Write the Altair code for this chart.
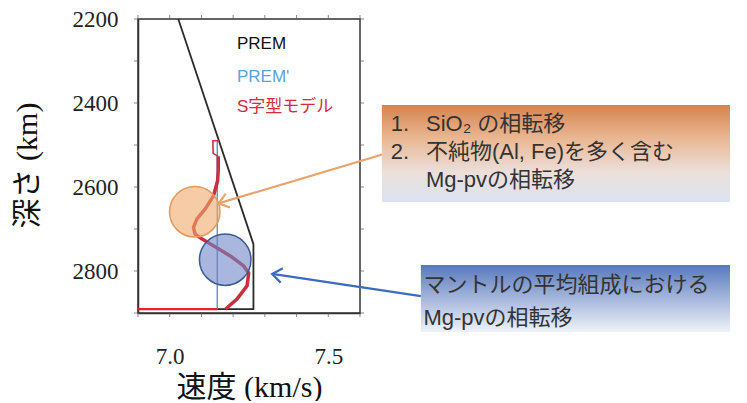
import altair as alt
import pandas as pd

# ---------------- data ----------------
# PREM (black)
prem_vel = [7.027, 7.264, 7.264, 6.90]
prem_dep = [2200, 2736, 2891, 2891]
# PREM' (blue)
premp_vel = [7.155, 7.150, 7.150]
premp_dep = [2490, 2490, 2891]
# S-shaped model, thin upper part
stop_vel = [7.155, 7.136, 7.137, 7.153]
stop_dep = [2490, 2490, 2520, 2527]
# S-shaped model, thick part
s_vel = [7.153, 7.153, 7.151, 7.138, 7.112, 7.086, 7.075, 7.080, 7.102, 7.138,
         7.191, 7.233, 7.249, 7.244, 7.212, 7.186, 7.176]
s_dep = [2527, 2560, 2585, 2621, 2652, 2676, 2696, 2712, 2724, 2740,
         2764, 2788, 2805, 2835, 2867, 2884, 2891]
# core (Vs -> 0)
core_vel = [7.150, 6.90]
core_dep = [2891, 2891]

# circles
circle_vel = [7.079, 7.175]
circle_dep = [2659, 2773]

# arrows (start -> end)
arrow_name = ["orange", "blue"]
arrow_vel0 = [7.678, 7.792]
arrow_dep0 = [2521, 2860]
arrow_vel1 = [7.154, 7.323]
arrow_dep1 = [2639, 2807]
arrow_angle = [163.3, 188.6]
arrow_color = ["#e9a36b", "#3b6cc0"]

# legend labels in plot
legend_text = ["PREM", "PREM'", "S字型モデル"]
legend_vel = [7.212, 7.212, 7.212]
legend_dep = [2259, 2337, 2409]
legend_col = ["#111111", "#5aa2dc", "#d42a3a"]

# annotation boxes
box1 = dict(v0=7.669, v1=8.783, d0=2405, d1=2636)
box2 = dict(v0=7.792, v1=8.780, d0=2786, d1=2945)
box1_num = ["1.", "2."]
box1_num_dep = [2449, 2517]
box1_text = ["SiO₂ の相転移", "不純物(Al, Fe)を多く含む", "Mg-pvの相転移"]
box1_text_dep = [2449, 2517, 2583]
box2_text = ["マントルの平均組成における", "Mg-pvの相転移"]
box2_text_dep = [2833, 2912]

x_labels = [7.0, 7.5]
x_ticks = [6.9, 7.0, 7.1, 7.2, 7.3, 7.4, 7.5, 7.6]
y_labels = [2200, 2400, 2600, 2800]
y_ticks = [2200, 2300, 2400, 2500, 2600, 2700, 2800, 2900]

# ---------------- tables ----------------
series_info = [
    ("PREM", prem_vel, prem_dep, "#2a2a2a", 1.8),
    ("PREMp", premp_vel, premp_dep, "#5b9bd5", 1.5),
    ("Stop", stop_vel, stop_dep, "#d0303e", 1.6),
    ("S", s_vel, s_dep, "#c8303e", 3.5),
    ("core", core_vel, core_dep, "#e8202c", 2.2),
]
rows = []
for name, vs, ds, col, w in series_info:
    for i, (v, d) in enumerate(zip(vs, ds)):
        rows.append({"series": name, "idx": i, "vel": v, "depth": d, "col": col, "w": w})
lines_df = pd.DataFrame(rows)

xscale = alt.Scale(domain=[6.9, 7.6], nice=False, zero=False)
yscale = alt.Scale(domain=[2200, 2900], nice=False, zero=False, reverse=True)

SERIF = "Liberation Serif, Noto Sans CJK JP"
SANS = "Liberation Sans, Noto Sans CJK JP"

xaxis = alt.Axis(values=x_labels, format=".1f", ticks=False, labelPadding=32,
                 labelOverlap=False, labelFlush=False,
                 labelFont=SERIF, labelFontSize=23, labelColor="#222222",
                 title="速度 (km/s)", titleFont=SERIF, titleFontSize=30,
                 titleFontWeight="normal", titleColor="#111111",
                 titleX=111, titleY=74, titleBaseline="middle", titleAlign="center",
                 grid=False, domainColor="#333333", domainWidth=1.5)
yaxis = alt.Axis(values=y_labels, format="d", ticks=False, labelPadding=20,
                 labelOverlap=False, labelFlush=False,
                 labelFont=SERIF, labelFontSize=23, labelColor="#222222",
                 title="深さ (km)", titleFont=SERIF, titleFontSize=30,
                 titleFontWeight="normal", titleColor="#111111",
                 titleX=-111, titleY=146, titleAngle=-90, titleBaseline="middle",
                 titleAlign="center",
                 grid=False, domainColor="#333333", domainWidth=1.5)

lines = alt.Chart(lines_df).mark_line(clip=False, strokeJoin="round", strokeCap="butt").encode(
    x=alt.X("vel:Q", scale=xscale, axis=xaxis),
    y=alt.Y("depth:Q", scale=yscale, axis=yaxis),
    color=alt.Color("col:N", scale=None),
    strokeWidth=alt.StrokeWidth("w:Q", scale=None),
    detail="series:N",
    order="idx:Q",
)

# small ticks on all four sides
xt_df = pd.DataFrame({"vel": x_ticks})
yt_df = pd.DataFrame({"depth": y_ticks})
top_ticks = alt.Chart(xt_df).mark_tick(
    orient="vertical", size=4, thickness=1, color="#555555", clip=False
).encode(x="vel:Q", y=alt.value(-2))
bottom_ticks = alt.Chart(xt_df).mark_tick(
    orient="vertical", size=4, thickness=1, color="#555555", clip=False
).encode(x="vel:Q", y=alt.value(296))
right_ticks = alt.Chart(yt_df).mark_tick(
    orient="horizontal", size=4, thickness=1, color="#555555", clip=False
).encode(y="depth:Q", x=alt.value(224))
left_ticks = alt.Chart(yt_df).mark_tick(
    orient="horizontal", size=4, thickness=1, color="#555555", clip=False
).encode(y="depth:Q", x=alt.value(-2))

circ_df = pd.DataFrame({"vel": circle_vel, "depth": circle_dep})
orange_c = alt.Chart(circ_df.iloc[[0]]).mark_point(
    shape="circle", filled=True, size=2550, fill="#eeaa6a", fillOpacity=0.6,
    stroke="#e39a5c", strokeWidth=1.5, strokeOpacity=1, opacity=1, clip=False
).encode(x="vel:Q", y="depth:Q")
blue_c = alt.Chart(circ_df.iloc[[1]]).mark_point(
    shape="circle", filled=True, size=2650, fill="#7085c6", fillOpacity=0.6,
    stroke="#3a5a94", strokeWidth=1.5, strokeOpacity=1, opacity=1, clip=False
).encode(x="vel:Q", y="depth:Q")

arr_df = pd.DataFrame({"name": arrow_name, "vel": arrow_vel0, "depth": arrow_dep0,
                       "vel1": arrow_vel1, "depth1": arrow_dep1, "angle": arrow_angle,
                       "col": arrow_color})
arrow_lines = alt.Chart(arr_df).mark_rule(strokeWidth=2.2, clip=False).encode(
    x="vel:Q", y="depth:Q", x2="vel1:Q", y2="depth1:Q",
    color=alt.Color("col:N", scale=None),
)
head_df = pd.DataFrame({"vel": arrow_vel1, "depth": arrow_dep1, "angle": arrow_angle,
                        "col": arrow_color})
arrow_heads = alt.Chart(head_df).mark_point(
    shape="M -1 -0.75 L 0 0 L -1 0.75", filled=False, size=380, strokeWidth=2.2,
    opacity=1, clip=False, strokeJoin="miter"
).encode(
    x="vel:Q", y="depth:Q",
    angle=alt.Angle("angle:Q", scale=None),
    color=alt.Color("col:N", scale=None),
)

leg_df = pd.DataFrame({"t": legend_text, "vel": legend_vel, "depth": legend_dep, "c": legend_col})
legend_marks = alt.Chart(leg_df).mark_text(
    align="left", baseline="middle", font=SANS, fontSize=17, clip=False
).encode(x="vel:Q", y="depth:Q", text="t:N", color=alt.Color("c:N", scale=None))

grad1 = alt.Gradient(gradient="linear", x1=0, y1=0, x2=0, y2=1, stops=[
    alt.GradientStop(color="#d5834f", offset=0),
    alt.GradientStop(color="#eab894", offset=0.35),
    alt.GradientStop(color="#ebe0dc", offset=0.7),
    alt.GradientStop(color="#dbe3f1", offset=1)])
grad2 = alt.Gradient(gradient="linear", x1=0, y1=0, x2=0, y2=1, stops=[
    alt.GradientStop(color="#5579bd", offset=0),
    alt.GradientStop(color="#a6b7dc", offset=0.5),
    alt.GradientStop(color="#eef2f9", offset=1)])

b1 = pd.DataFrame([{"vel": box1["v0"], "vel1": box1["v1"], "depth": box1["d0"], "depth1": box1["d1"]}])
b2 = pd.DataFrame([{"vel": box2["v0"], "vel1": box2["v1"], "depth": box2["d0"], "depth1": box2["d1"]}])
rect1 = alt.Chart(b1).mark_rect(fill=grad1, clip=False).encode(
    x="vel:Q", x2="vel1:Q", y="depth:Q", y2="depth1:Q")
rect2 = alt.Chart(b2).mark_rect(fill=grad2, clip=False).encode(
    x="vel:Q", x2="vel1:Q", y="depth:Q", y2="depth1:Q")

num_df = pd.DataFrame({"t": box1_num, "depth": box1_num_dep, "vel": [7.697] * len(box1_num)})
t1_df = pd.DataFrame({"t": box1_text, "depth": box1_text_dep, "vel": [7.808] * len(box1_text)})
t2_df = pd.DataFrame({"t": box2_text, "depth": box2_text_dep, "vel": [7.800] * len(box2_text)})

def box_text(df):
    return alt.Chart(df).mark_text(
        align="left", baseline="middle", font=SANS, fontSize=22, color="#333333", clip=False
    ).encode(x="vel:Q", y="depth:Q", text="t:N")

chart = alt.layer(
    lines, top_ticks, bottom_ticks, left_ticks, right_ticks, orange_c, blue_c,
    arrow_lines, arrow_heads, legend_marks,
    rect1, rect2, box_text(num_df), box_text(t1_df), box_text(t2_df)
).properties(
    width=222, height=294,
    autosize=alt.AutoSizeParams(type="none"),
    padding={"left": 130, "top": 11, "right": 370, "bottom": 88},
    background="white",
).configure_view(stroke="#333333", strokeWidth=1.5)

chart.save("out.html", embed_options={"renderer": "svg", "actions": False})
